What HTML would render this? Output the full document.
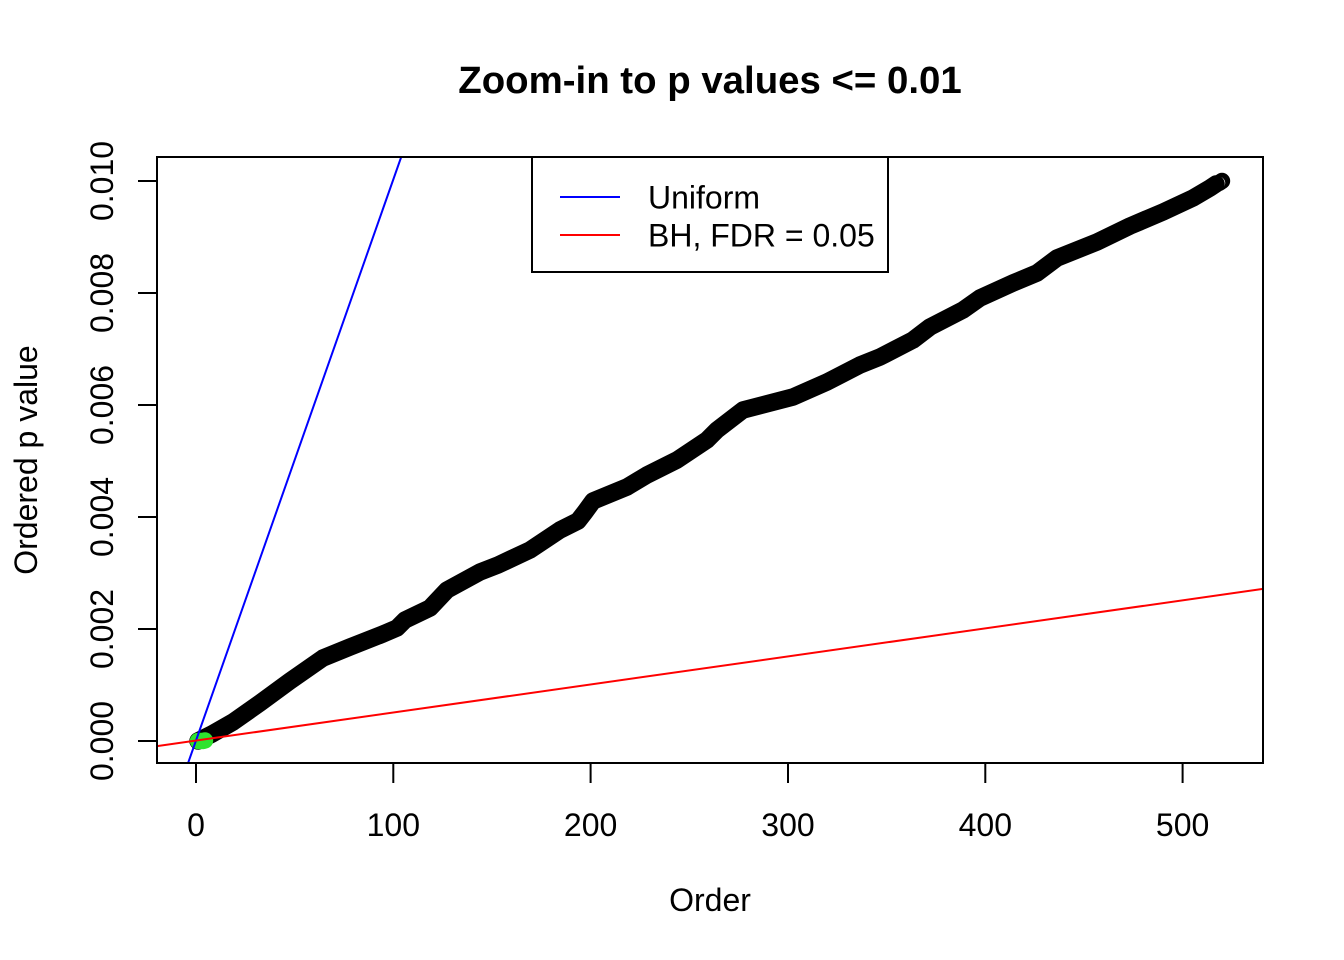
<!DOCTYPE html>
<html>
<head>
<meta charset="utf-8">
<style>
  html, body { margin: 0; padding: 0; background: #ffffff; }
  svg { display: block; }
  text { font-family: "Liberation Sans", "DejaVu Sans", sans-serif; fill: #000; }
</style>
</head>
<body>
<svg width="1344" height="960" viewBox="0 0 1344 960" xmlns="http://www.w3.org/2000/svg">
  <rect x="0" y="0" width="1344" height="960" fill="#ffffff"/>

  <!-- Title -->
  <text x="710" y="93" font-size="38.4" font-weight="bold" text-anchor="middle">Zoom-in to p values &lt;= 0.01</text>

  <defs>
    <clipPath id="plotclip">
      <rect x="157" y="157" width="1106" height="606"/>
    </clipPath>
  </defs>

  <!-- Data band (ordered p values, pch=1 circles) -->
  <g clip-path="url(#plotclip)">
    <polyline fill="none" stroke="#000" stroke-width="17.5" stroke-linejoin="round" stroke-linecap="round"
      points="198,741 212,734 233,722 260,703 290,681 323,658 350,647 383,634 397,628 405,620 430,608 447,590 480,572 498,565 530,550 560,530 578,521 585,512 593,501 627,487 647,475 677,460 707,440 717,430 743,410 793,397 827,382 860,365 880,357 913,340 930,327 963,310 980,298 1013,283 1037,273 1057,258 1097,242 1130,226 1163,212 1193,198 1210,188 1216,184"/>
    <circle cx="1222" cy="181" r="7.2" fill="none" stroke="#000" stroke-width="2"/>
    <circle cx="1220.5" cy="182" r="7.2" fill="none" stroke="#000" stroke-width="2"/>
    <circle cx="1219" cy="183" r="7.2" fill="none" stroke="#000" stroke-width="2"/>

    <!-- Green significant points -->
    <circle cx="198" cy="741" r="8.2" fill="#2ee32e"/>
    <circle cx="200.5" cy="741" r="8.2" fill="#2ee32e"/>
    <circle cx="203" cy="741" r="8.2" fill="#2ee32e"/>
    <circle cx="205" cy="740.5" r="8.2" fill="#2ee32e"/>

    <!-- Uniform line -->
    <line x1="188.1" y1="763" x2="401.2" y2="157" stroke="#0000ff" stroke-width="2"/>
    <!-- BH line -->
    <line x1="157" y1="746.1" x2="1263" y2="588.9" stroke="#ff0000" stroke-width="2"/>
  </g>

  <!-- Plot box -->
  <rect x="157" y="157" width="1106" height="606" fill="none" stroke="#000" stroke-width="2"/>

  <!-- X axis ticks -->
  <g stroke="#000" stroke-width="2">
    <line x1="196" y1="763" x2="1182.6" y2="763"/>
    <line x1="196" y1="763" x2="196" y2="783"/>
    <line x1="393.3" y1="763" x2="393.3" y2="783"/>
    <line x1="590.6" y1="763" x2="590.6" y2="783"/>
    <line x1="788" y1="763" x2="788" y2="783"/>
    <line x1="985.3" y1="763" x2="985.3" y2="783"/>
    <line x1="1182.6" y1="763" x2="1182.6" y2="783"/>
  </g>
  <g font-size="32" text-anchor="middle">
    <text x="196" y="836">0</text>
    <text x="393.3" y="836">100</text>
    <text x="590.6" y="836">200</text>
    <text x="788" y="836">300</text>
    <text x="985.3" y="836">400</text>
    <text x="1182.6" y="836">500</text>
  </g>

  <!-- Y axis ticks -->
  <g stroke="#000" stroke-width="2">
    <line x1="157" y1="181" x2="157" y2="741"/>
    <line x1="138" y1="741" x2="157" y2="741"/>
    <line x1="138" y1="629" x2="157" y2="629"/>
    <line x1="138" y1="517" x2="157" y2="517"/>
    <line x1="138" y1="405" x2="157" y2="405"/>
    <line x1="138" y1="293" x2="157" y2="293"/>
    <line x1="138" y1="181" x2="157" y2="181"/>
  </g>
  <g font-size="32" text-anchor="middle">
    <text transform="translate(113,741) rotate(-90)">0.000</text>
    <text transform="translate(113,629) rotate(-90)">0.002</text>
    <text transform="translate(113,517) rotate(-90)">0.004</text>
    <text transform="translate(113,405) rotate(-90)">0.006</text>
    <text transform="translate(113,293) rotate(-90)">0.008</text>
    <text transform="translate(113,181) rotate(-90)">0.010</text>
  </g>

  <!-- Axis titles -->
  <text x="710" y="911" font-size="32" text-anchor="middle">Order</text>
  <text transform="translate(37,460) rotate(-90)" font-size="32" text-anchor="middle">Ordered p value</text>

  <!-- Legend -->
  <rect x="532" y="157" width="356" height="115" fill="#ffffff" stroke="#000" stroke-width="2"/>
  <line x1="560" y1="197" x2="620" y2="197" stroke="#0000ff" stroke-width="2"/>
  <line x1="560" y1="235" x2="620" y2="235" stroke="#ff0000" stroke-width="2"/>
  <text x="648" y="208.5" font-size="32">Uniform</text>
  <text x="648" y="246.5" font-size="32">BH, FDR = 0.05</text>
</svg>
</body>
</html>
